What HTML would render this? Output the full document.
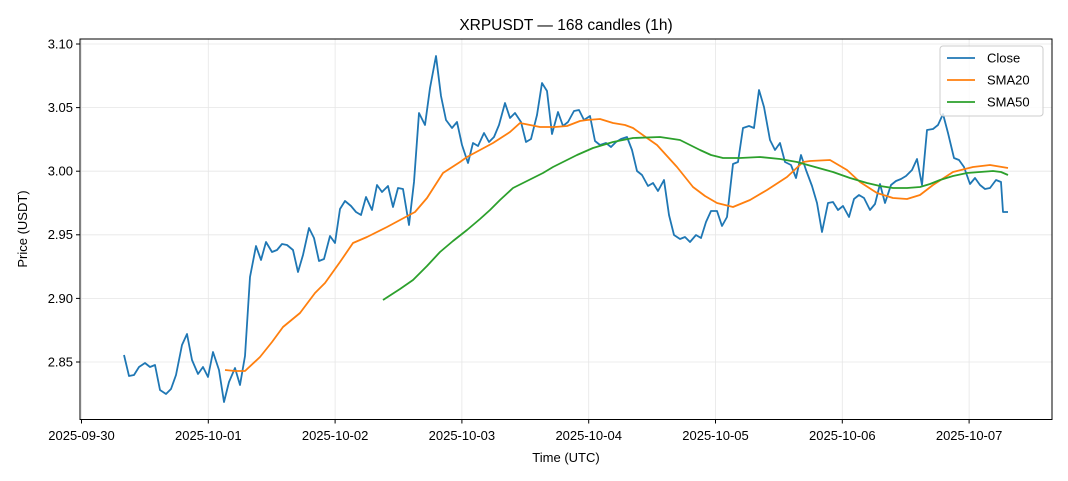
<!DOCTYPE html>
<html><head><meta charset="utf-8"><style>
body{margin:0;background:#fff}
svg{display:block;font-family:"Liberation Sans","DejaVu Sans",sans-serif}
</style></head><body>
<svg width="1068" height="481" viewBox="0 0 1068 481" xmlns="http://www.w3.org/2000/svg">
<rect width="1068" height="481" fill="#fff"/>
<g stroke="#e6e6e6" stroke-width="0.8">
<line x1="81.5" y1="39" x2="81.5" y2="419.5"/><line x1="208.3" y1="39" x2="208.3" y2="419.5"/><line x1="335.1" y1="39" x2="335.1" y2="419.5"/><line x1="461.9" y1="39" x2="461.9" y2="419.5"/><line x1="588.7" y1="39" x2="588.7" y2="419.5"/><line x1="715.5" y1="39" x2="715.5" y2="419.5"/><line x1="842.3" y1="39" x2="842.3" y2="419.5"/><line x1="969.1" y1="39" x2="969.1" y2="419.5"/>
<line x1="80" y1="44" x2="1052" y2="44"/><line x1="80" y1="107.6" x2="1052" y2="107.6"/><line x1="80" y1="171.2" x2="1052" y2="171.2"/><line x1="80" y1="234.8" x2="1052" y2="234.8"/><line x1="80" y1="298.4" x2="1052" y2="298.4"/><line x1="80" y1="362" x2="1052" y2="362"/>
</g>
<g fill="none" stroke-width="1.8" stroke-linejoin="round">
<polyline stroke="#1f77b4" points="124,355 129,376 134,375 139,367 145,363 150,367 155,365 160,390 166,394 171,389 176,375 182,345 187,334 192,360 198,374 203,367 208,377 213,352 219,370 224,402 229,382 235,368 240,385 245,356 250,277 256,246 261,260 266,242 272,252 277,250 282,244 287,245 293,250 298,272 303,255 309,228 314,238 319,261 324,259 330,236 335,243 340,209 345,201 351,206 356,212 361,215 366,197 372,210 377,185 382,192 388,186 393,207 398,188 403,189 409,225 414,182 419,113 425,125 430,88 436,56 441,96 446,120 452,128 457,122 462,145 468,163 473,143 478,146 484,133 489,142 494,137 499,125 505,103 510,118 515,113 521,122 526,142 531,139 537,115 542,83 547,91 552,134 558,112 563,126 568,122 574,111 579,110 584,120 590,116 595,141 600,145 606,143 611,147 616,142 621,139 627,137 632,150 637,171 642,175 648,186 653,183 658,191 664,180 669,215 674,235 680,239 685,237 690,242 696,235 701,238 706,222 711,211 717,211 722,226 727,217 733,164 738,162 743,128 749,126 754,128 759,90 764,107 770,140 775,150 780,143 785,162 791,165 796,178 801,155 806,170 812,186 817,203 822,232 828,203 833,202 838,210 843,206 849,217 854,199 859,195 864,198 870,210 875,204 880,184 885,203 891,185 896,181 901,179 906,176 912,170 917,159 922,185 927,130 933,129 938,125 943,114 948,133 954,158 959,160 964,167 970,184 975,178 980,185 985,189 990,188 996,180 1001,182 1003,212 1008,212"/>
<polyline stroke="#ff7f0e" points="225,370 235,371 245,371 260,357 272,342 283,327 300,313 315,293 325,283 340,262 353,243 367,237 387,227 400,220 415,212 427,198 443,173 460,162 467,157 480,150 493,143 510,132 520,123 530,125 540,127 555,127 567,126 580,121 587,120 600,119 613,123 625,125 633,128 647,138 657,145 667,156 677,167 693,187 705,196 717,203 733,207 750,200 767,190 787,177 803,162 810,161 830,160 847,170 860,182 877,193 893,198 907,199 920,195 933,185 953,172 973,167 990,165 1008,168"/>
<polyline stroke="#2ca02c" points="383,300 400,289 413,280 427,266 440,252 453,241 467,230 480,219 490,210 500,200 513,188 523,183 533,178 543,173 553,167 565,161 577,155 593,148 613,142 633,138 660,137 680,140 690,145 700,150 711,155 723,158 740,158 760,157 780,159 797,162 815,167 833,172 850,178 867,183 880,186 893,188 907,188 920,187 930,184 940,180 953,176 967,173 980,172 993,171 1001,172 1008,175"/>
</g>
<rect x="80" y="39" width="972" height="380.5" fill="none" stroke="#000" stroke-width="1"/>
<g stroke="#000" stroke-width="1">
<line x1="81.5" y1="419.5" x2="81.5" y2="423.5"/><line x1="208.3" y1="419.5" x2="208.3" y2="423.5"/><line x1="335.1" y1="419.5" x2="335.1" y2="423.5"/><line x1="461.9" y1="419.5" x2="461.9" y2="423.5"/><line x1="588.7" y1="419.5" x2="588.7" y2="423.5"/><line x1="715.5" y1="419.5" x2="715.5" y2="423.5"/><line x1="842.3" y1="419.5" x2="842.3" y2="423.5"/><line x1="969.1" y1="419.5" x2="969.1" y2="423.5"/>
<line x1="76" y1="44" x2="80" y2="44"/><line x1="76" y1="107.6" x2="80" y2="107.6"/><line x1="76" y1="171.2" x2="80" y2="171.2"/><line x1="76" y1="234.8" x2="80" y2="234.8"/><line x1="76" y1="298.4" x2="80" y2="298.4"/><line x1="76" y1="362" x2="80" y2="362"/>
</g>
<g font-size="13" fill="#000" text-anchor="middle">
<text x="81.5" y="440">2025-09-30</text><text x="208.3" y="440">2025-10-01</text><text x="335.1" y="440">2025-10-02</text><text x="461.9" y="440">2025-10-03</text><text x="588.7" y="440">2025-10-04</text><text x="715.5" y="440">2025-10-05</text><text x="842.3" y="440">2025-10-06</text><text x="969.1" y="440">2025-10-07</text>
</g>
<g font-size="13" fill="#000" text-anchor="end">
<text x="73" y="48.5">3.10</text><text x="73" y="112">3.05</text><text x="73" y="175.5">3.00</text><text x="73" y="239">2.95</text><text x="73" y="303">2.90</text><text x="73" y="366.5">2.85</text>
</g>
<text x="566" y="462" font-size="13" text-anchor="middle">Time (UTC)</text>
<text transform="translate(27,229) rotate(-90)" font-size="13" text-anchor="middle">Price (USDT)</text>
<text x="566" y="30" font-size="15.5" text-anchor="middle">XRPUSDT — 168 candles (1h)</text>
<rect x="940" y="46" width="103" height="70" rx="3" fill="#fff" fill-opacity="0.8" stroke="#ccc"/>
<g stroke-width="1.8"><line x1="947" y1="58" x2="975" y2="58" stroke="#1f77b4"/><line x1="947" y1="80" x2="975" y2="80" stroke="#ff7f0e"/><line x1="947" y1="102" x2="975" y2="102" stroke="#2ca02c"/></g>
<g font-size="13"><text x="987" y="62.5">Close</text><text x="987" y="84.5">SMA20</text><text x="987" y="106.5">SMA50</text></g>
</svg>
</body></html>
